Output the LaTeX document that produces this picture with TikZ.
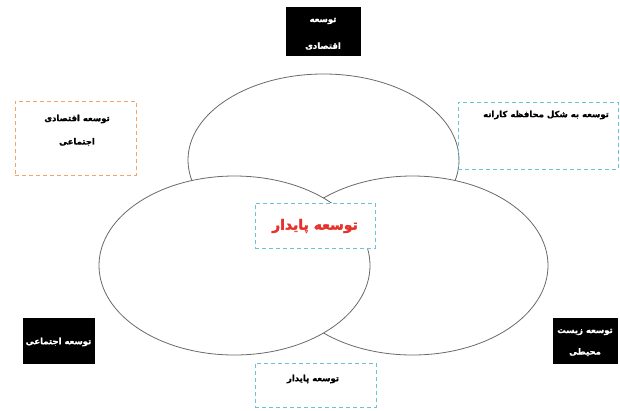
\documentclass[tikz,border=0pt]{standalone}
\usepackage{fontspec}
\TeXXeTstate=1
\newfontfamily\fa[Script=Arabic,FakeBold=1.2]{DejaVu Sans}
\newfontfamily\fab[Script=Arabic,FakeBold=2.2]{DejaVu Sans}
\definecolor{orng}{HTML}{F2A468}
\definecolor{cyn}{HTML}{6CC3D3}
\definecolor{ellc}{HTML}{6E6868}
\definecolor{redt}{HTML}{E8302A}
\tikzset{
  ellpath/.style={draw=ellc, fill=white, line width=0.8pt},
  blackbox/.style={draw=black, fill=black, inner sep=0pt},
  orbox/.style={draw=orng, line width=1pt, dash pattern=on 4pt off 3pt, inner sep=0pt},
  cybox/.style={draw=cyn, line width=1pt, dash pattern=on 4pt off 3pt, inner sep=0pt},
  wtxt/.style={text=white, font=\fa\fontsize{8.5}{10}\selectfont\bfseries, inner sep=0pt},
  btxt/.style={text=black, font=\fa\fontsize{8.5}{10}\selectfont\bfseries, inner sep=0pt},
  rtxt/.style={text=redt, font=\fab\fontsize{14}{16}\selectfont\bfseries, inner sep=0pt}
}
\begin{document}
\begin{tikzpicture}[x=1pt,y=-1pt]
\useasboundingbox (0,0) rectangle (620,410);
\fill[white] (0,0) rectangle (620,410);
% ellipses
\draw[ellpath] (323.5,160) ellipse [x radius=135.5pt, y radius=86pt];
\draw[ellpath] (412.5,265.5) ellipse [x radius=135.5pt, y radius=89.5pt];
\draw[ellpath] (234.5,265.5) ellipse [x radius=135.5pt, y radius=89.5pt];
% top black box
\node[blackbox, minimum width=74pt, minimum height=48pt] (econ) at (323,31) {};
\node[wtxt] (econa) at (323,21) {\beginR توسعه\endR};
\node[wtxt] (econb) at (323,46) {\beginR اقتصادی\endR};
% orange box
\node[orbox, minimum width=121pt, minimum height=74pt] (ecsoc) at (75.5,138) {};
\node[btxt] (ecsoca) at (77,119) {\beginR توسعه اقتصادی\endR};
\node[btxt] (ecsocb) at (77,142) {\beginR اجتماعی\endR};
% top right cyan box
\node[cybox, minimum width=160pt, minimum height=67pt] (cons) at (538,135.5) {};
\node[btxt] (consa) at (546,115) {\beginR توسعه به شکل محافظه کارانه\endR};
% center box
\node[cybox, fill=white, minimum width=120pt, minimum height=45pt] (sus) at (315,225.5) {};
\node[rtxt] (susa) at (315,226) {\beginR توسعه پایدار\endR};
% bottom left black
\node[blackbox, minimum width=71pt, minimum height=45pt] (soc) at (58.5,340.5) {};
\node[wtxt] (soca) at (58.5,342) {\beginR توسعه اجتماعی\endR};
% bottom right black
\node[blackbox, minimum width=64pt, minimum height=45pt] (env) at (585,340.5) {};
\node[wtxt] (enva) at (585,332) {\beginR توسعه زیست\endR};
\node[wtxt] (envb) at (585,352) {\beginR محیطی\endR};
% bottom cyan
\node[cybox, minimum width=121pt, minimum height=44pt] (susb) at (315.5,385) {};
\node[btxt] (susba) at (313,379) {\beginR توسعه پایدار\endR};
\end{tikzpicture}
\end{document}
